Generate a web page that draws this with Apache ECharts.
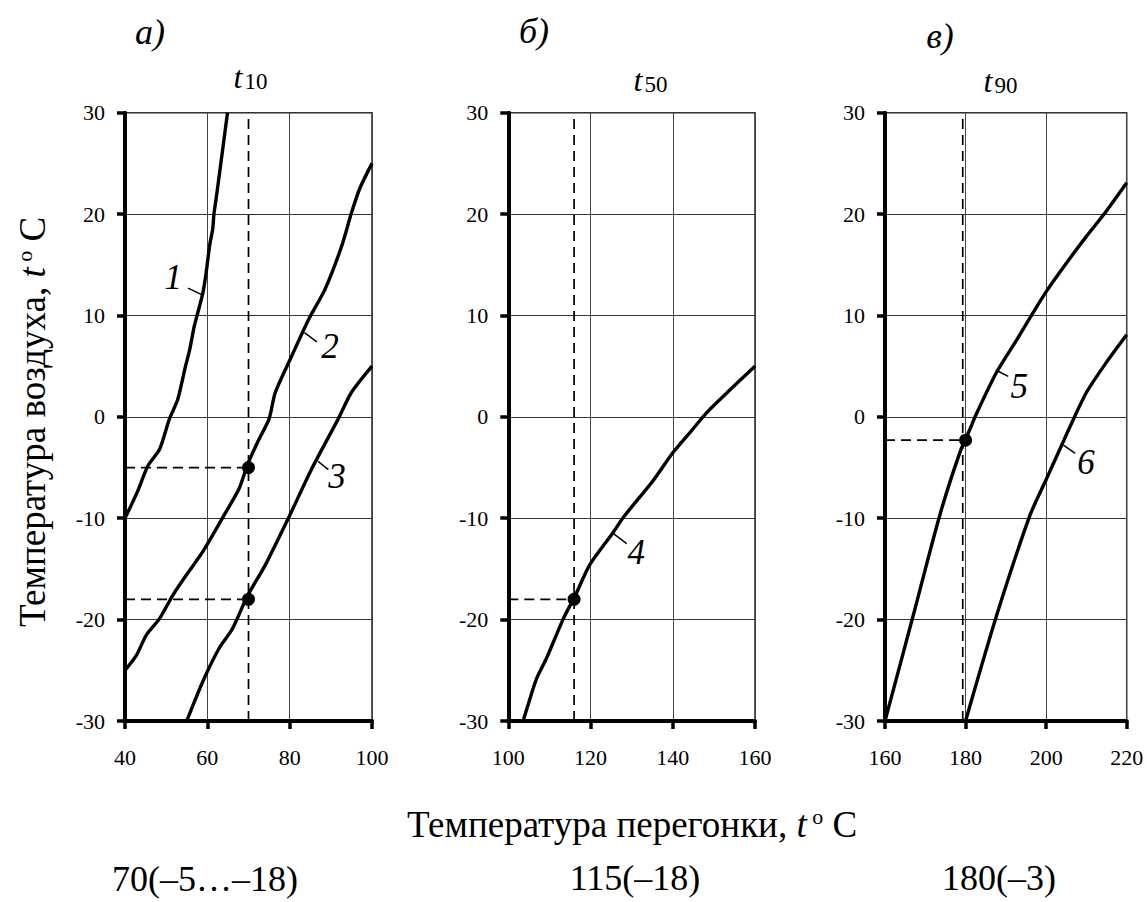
<!DOCTYPE html>
<html>
<head>
<meta charset="utf-8">
<script src="https://cdn.jsdelivr.net/npm/echarts@6/dist/echarts.min.js"></script>
<style>
html,body{margin:0;padding:0;background:#fff;}
#c{width:1147px;height:902px;}
</style>
</head>
<body>
<div id="c"></div>
<script>
// ---- data ----
const panelLetters = ['а)', 'б)', 'в)'];
const panelSubs = ['10', '50', '90'];
const xMins = [40, 100, 160];
const xMaxs = [100, 160, 220];
const yMin = -30, yMax = 30;
const bottomNotes = ['70(–5…–18)', '115(–18)', '180(–3)'];

const curve1 = [[40,-10],[43,-7.4],[45.6,-4.8],[48.4,-3.2],[50.8,-0.2],[52.8,1.7],[54.7,5],[55.7,6.6],[56.8,8.9],[57.5,10],[58.9,12.2],[59.7,14.2],[60.6,17],[61.3,18.5],[61.6,20],[62.1,21.4],[63.7,26.3],[64.9,30]];
const curve2 = [[40,-25],[42.8,-23.5],[45.2,-21.5],[48.4,-19.9],[51.6,-17.6],[54.9,-15.6],[58.9,-13.3],[64.5,-9.4],[67.7,-7.1],[69.7,-4.8],[72.2,-2.5],[75,-0.2],[76.5,2.4],[80.5,6],[84.6,9.6],[88.6,12.6],[92.6,16.8],[95,20.1],[97,22.5],[100,25]];
const curve3 = [[55,-30],[58.9,-26.1],[62.9,-22.8],[66.1,-20.9],[69.7,-17.7],[74.1,-14.6],[79.8,-9.9],[85.4,-5.1],[91.8,-0.2],[95,2.4],[100,5]];
const curve4 = [[103.6,-30],[105.5,-27.5],[106.9,-25.8],[109.3,-23.8],[113.4,-19.9],[116.2,-17.7],[119.8,-14.6],[125.5,-11.4],[128,-9.9],[135.2,-6.3],[140.1,-3.5],[144.9,-1.2],[148.2,0.4],[154,2.7],[160,5]];
const curve5 = [[160,-30],[167,-19.6],[173.6,-9.7],[178.6,-3.5],[181.1,-1.2],[182.8,0.4],[187.7,4.4],[192.7,7.6],[196.8,10.3],[200.1,12.4],[205.1,15.2],[210,17.8],[214.2,19.9],[220,23.1]];
const curve6 = [[180,-30],[187.7,-19.6],[196,-9.7],[200.1,-6.1],[203.4,-3.2],[206,-0.9],[210,2.4],[215,5.4],[220,8.1]];
const curvePanels = [0, 0, 0, 1, 2, 2];

const curveLabels = ['1', '2', '3', '4', '5', '6'];
const labelPoints = [[51.7,13.7],[89.8,6.9],[91.5,-5.9],[131.1,-13.4],[193.3,3.0],[209.9,-4.5]];
const leaderStarts = [[55.3,12.7],[83.6,8.3],[86.9,-4.4],[125.5,-11.5],[188.1,4.5],[204.3,-2.8]];
const leaderEnds = [[58.9,12.0],[86.6,7.4],[89.4,-5.2],[128.8,-12.5],[190.6,4.0],[207.2,-3.6]];

const readX = [70, 116, 179.3];
const readYs = [[-5, -18], [-18], [-2.3]];
const dotsA = [[70,-5],[70,-18]];
const dotsB = [[116,-18]];
const dotsC = [[180,-2.3]];
const vTop = [30, 29.5, 30];

// ---- chart ----
const FONT = "'Liberation Serif', 'Times New Roman', serif";
const gridBoxes = [
  {left:125, top:112.7, width:247, height:608.3},
  {left:508.3, top:112.7, width:246.7, height:608.3},
  {left:885, top:112.7, width:241.7, height:608.3}
];
const grids = gridBoxes.map(g => Object.assign({show:true, borderColor:'#222', borderWidth:1.5, backgroundColor:'transparent'}, g));

const xAxes = [0,1,2].map(i => ({
  type:'value', gridIndex:i, min:xMins[i], max:xMaxs[i], interval:20,
  axisLine:{show:true, onZero:false, lineStyle:{color:'#000', width:4}},
  axisTick:{show:true, inside:false, length:8, lineStyle:{color:'#000', width:3.5}},
  axisLabel:{color:'#000', fontFamily:FONT, fontSize:22, margin:25},
  splitLine:{show:true, lineStyle:{color:'#444', width:1}}
}));
const yAxes = [0,1,2].map(i => ({
  type:'value', gridIndex:i, min:yMin, max:yMax, interval:10,
  axisLine:{show:true, onZero:false, lineStyle:{color:'#000', width:4}},
  axisTick:{show:true, inside:false, length:8, lineStyle:{color:'#000', width:3.5}},
  axisLabel:{color:'#000', fontFamily:FONT, fontSize:22, margin:20},
  splitLine:{show:true, lineStyle:{color:'#333', width:1}}
}));

const series = [];
const dashStyle = {color:'#000', width:1.7, type:[10,6]};
// guides
[0,1,2].forEach(i => {
  series.push({type:'line', xAxisIndex:i, yAxisIndex:i, data:[[readX[i], yMin],[readX[i], vTop[i]]],
    showSymbol:false, silent:true, lineStyle:dashStyle, z:2});
  readYs[i].forEach(v => {
    series.push({type:'line', xAxisIndex:i, yAxisIndex:i, data:[[xMins[i], v],[readX[i] , v]],
      showSymbol:false, silent:true, lineStyle:dashStyle, z:2});
  });
});
// curves
[curve1, curve2, curve3, curve4, curve5, curve6].forEach((c, k) => {
  const p = curvePanels[k];
  series.push({type:'line', xAxisIndex:p, yAxisIndex:p, data:c, showSymbol:false, silent:true, smooth:0.25,
    lineStyle:{color:'#000', width:3.4}, z:3});
  series.push({type:'line', xAxisIndex:p, yAxisIndex:p, data:[leaderStarts[k], leaderEnds[k]], showSymbol:false, silent:true,
    lineStyle:{color:'#000', width:1.5}, z:3});
  series.push({type:'scatter', xAxisIndex:p, yAxisIndex:p, data:[labelPoints[k]], symbolSize:1,
    itemStyle:{color:'rgba(0,0,0,0)', opacity:1}, silent:true, z:4,
    label:{show:true, position:'inside', formatter:curveLabels[k], fontFamily:FONT, fontStyle:'italic', fontSize:35, color:'#000'}});
});
// dots
[dotsA, dotsB, dotsC].forEach((d, i) => {
  series.push({type:'scatter', xAxisIndex:i, yAxisIndex:i, data:d, symbol:'circle', symbolSize:13,
    itemStyle:{color:'#000', opacity:1}, silent:true, z:5});
});

const txt = (x, y, text, size, italic, extra) => Object.assign({
  type:'text', x:x, y:y, silent:true,
  style:{text:text, fontFamily:FONT, fontSize:size, fontStyle: italic ? 'italic' : 'normal', fill:'#000', align:'center', verticalAlign:'middle'}
}, extra || {});

const graphic = [];
const letterPos = [[150,32],[534,31],[940,36]];
panelLetters.forEach((t,i) => graphic.push(txt(letterPos[i][0], letterPos[i][1], t, 36, true)));
// subtitles t10 / t50 / t90
const tPos = [[238,77],[638,80],[988,81]];
panelSubs.forEach((s,i) => {
  graphic.push(txt(tPos[i][0], tPos[i][1], 't', 32, true));
  graphic.push(txt(tPos[i][0] + 18, tPos[i][1] + 4, s, 23, false));
});
const richT = {
  n:{fontFamily:FONT, fontSize:37, fill:'#000'},
  i:{fontFamily:FONT, fontSize:37, fontStyle:'italic', fill:'#000'},
  s:{fontFamily:FONT, fontSize:22, fill:'#000', verticalAlign:'top', padding:[0,0,14,0]}
};
graphic.push({type:'text', x:632, y:824, silent:true,
  style:{text:'{n|Температура перегонки, }{i|t}{s| о}{n| C}', rich:richT, align:'center', verticalAlign:'middle'}});
graphic.push({type:'text', x:32, y:422, rotation:Math.PI/2, silent:true,
  style:{text:'{n|Температура воздуха, }{i|t}{s| о}{n| C}', rich:richT, align:'center', verticalAlign:'middle'}});
const notePos = [[205,879],[635,878],[999,878]];
bottomNotes.forEach((t,i) => graphic.push(txt(notePos[i][0], notePos[i][1], t, 36, false)));

const chart = echarts.init(document.getElementById('c'), null, {renderer:'svg', width:1147, height:902});
chart.setOption({
  backgroundColor:'#fff',
  animation:false,
  grid:grids, xAxis:xAxes, yAxis:yAxes, series:series, graphic:graphic
});
</script>
</body>
</html>
